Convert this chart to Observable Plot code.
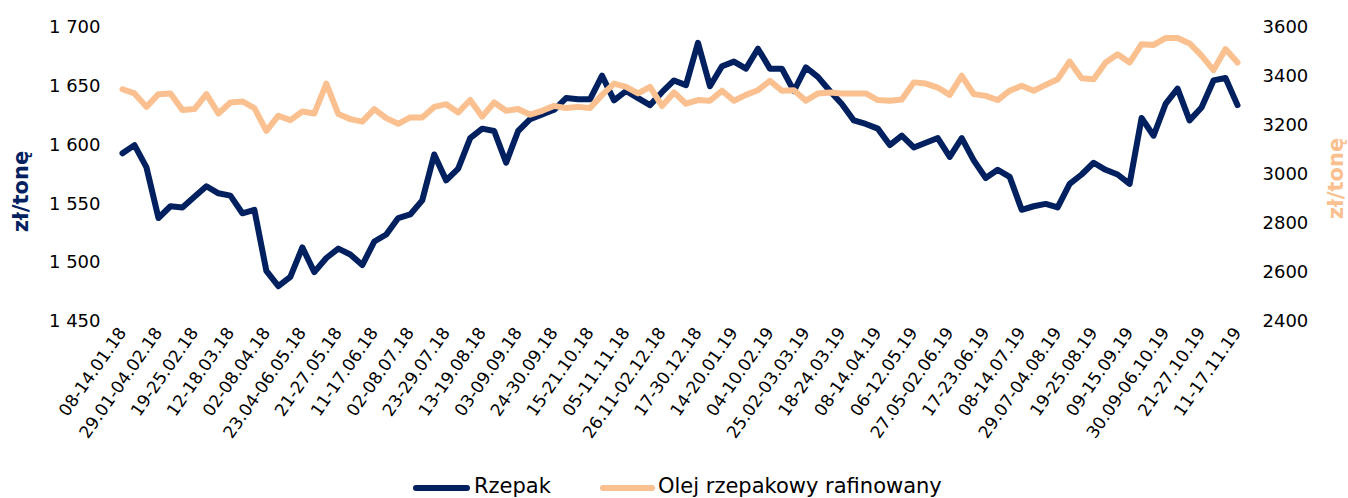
<!DOCTYPE html>
<html>
<head>
<meta charset="utf-8">
<script src="https://cdn.jsdelivr.net/npm/d3@7"></script>
<script src="https://cdn.jsdelivr.net/npm/@observablehq/plot@0.6"></script>
<style>
  html, body { margin: 0; padding: 0; background: #fff; }
  #wrap { position: relative; width: 1348px; height: 498px; overflow: hidden; font-family: "DejaVu Sans", Verdana, sans-serif; }
  #legend { position: absolute; left: 0; top: 460px; width: 1348px; height: 38px; }
  .sw { position: absolute; height: 6px; border-radius: 3px; top: 25px; }
  .lt { position: absolute; font-size: 21px; color: #000; top: 13px; line-height: 26px; white-space: nowrap; }
</style>
</head>
<body>
<div id="wrap">
  <div id="chart"></div>
  <div id="legend">
    <div class="sw" style="left:413px;width:57px;background:#002060"></div>
    <div class="lt" style="left:474px">Rzepak</div>
    <div class="sw" style="left:600px;width:55px;background:#FAC090"></div>
    <div class="lt" style="left:658px">Olej rzepakowy rafinowany</div>
  </div>
</div>
<script>
const weeks = [
  "08-14.01.18","15-21.01.18","22-28.01.18","29.01-04.02.18","05-11.02.18","12-18.02.18",
  "19-25.02.18","26.02-04.03.18","05-11.03.18","12-18.03.18","19-25.03.18","26.03-01.04.18",
  "02-08.04.18","09-15.04.18","16-22.04.18","23.04-06.05.18","07-13.05.18","14-20.05.18",
  "21-27.05.18","28.05-03.06.18","04-10.06.18","11-17.06.18","18-24.06.18","25.06-01.07.18",
  "02-08.07.18","09-15.07.18","16-22.07.18","23-29.07.18","30.07-05.08.18","06-12.08.18",
  "13-19.08.18","20-26.08.18","27.08-02.09.18","03-09.09.18","10-16.09.18","17-23.09.18",
  "24-30.09.18","01-07.10.18","08-14.10.18","15-21.10.18","22-28.10.18","29.10-04.11.18",
  "05-11.11.18","12-18.11.18","19-25.11.18","26.11-02.12.18","03-09.12.18","10-16.12.18",
  "17-30.12.18","31.12-06.01.19","07-13.01.19","14-20.01.19","21-27.01.19","28.01-03.02.19",
  "04-10.02.19","11-17.02.19","18-24.02.19","25.02-03.03.19","04-10.03.19","11-17.03.19",
  "18-24.03.19","25-31.03.19","01-07.04.19","08-14.04.19","15-21.04.19","22.04-05.05.19",
  "06-12.05.19","13-19.05.19","20-26.05.19","27.05-02.06.19","03-09.06.19","10-16.06.19",
  "17-23.06.19","24-30.06.19","01-07.07.19","08-14.07.19","15-21.07.19","22-28.07.19",
  "29.07-04.08.19","05-11.08.19","12-18.08.19","19-25.08.19","26.08-01.09.19","02-08.09.19",
  "09-15.09.19","16-22.09.19","23-29.09.19","30.09-06.10.19","07-13.10.19","14-20.10.19",
  "21-27.10.19","28.10-03.11.19","04-10.11.19","11-17.11.19"
];

const rzepak = [
  1593,1600,1581,1538,1548,1547,1556,1565,1559,1557,
  1542,1545,1493,1480,1488,1513,1492,1504,1512,1507,
  1498,1518,1524,1538,1541,1553,1592,1570,1580,1606,
  1614,1612,1585,1612,1622,1626,1630,1640,1639,1639,
  1659,1638,1646,1640,1634,1645,1655,1651,1687,1650,
  1667,1671,1665,1682,1665,1665,1646,1666,1658,1646,
  1635,1621,1618,1614,1600,1608,1598,1602,1606,1590,
  1606,1587,1572,1579,1573,1545,1548,1550,1547,1567,
  1575,1585,1579,1575,1567,1623,1608,1635,1648,1621,
  1632,1655,1657,1634
];

const olej = [
  3348,3331,3276,3328,3331,3263,3267,3328,3249,3294,
  3298,3271,3178,3240,3222,3257,3249,3371,3247,3226,
  3216,3267,3230,3207,3233,3233,3276,3287,3253,3304,
  3236,3294,3260,3267,3244,3260,3280,3271,3276,3271,
  3325,3371,3358,3331,3358,3280,3335,3289,3304,3301,
  3342,3301,3325,3344,3382,3342,3344,3301,3331,3335,
  3331,3331,3331,3304,3301,3306,3376,3371,3355,3325,
  3403,3328,3321,3304,3342,3362,3342,3366,3389,3461,
  3393,3389,3457,3491,3457,3532,3529,3557,3557,3535,
  3485,3426,3512,3457
];

const leftTicks = [1450, 1500, 1550, 1600, 1650, 1700];
const rightTicks = [2400, 2600, 2800, 3000, 3200, 3400, 3600];
const xTickLabels = weeks.filter((d, i) => i % 3 === 0);

const leftDomain = [1450, 1700];
const rightDomain = [2400, 3600];
const toLeft = d3.scaleLinear(rightDomain, leftDomain);

const rzepakData = weeks.map((w, i) => ({week: w, value: rzepak[i]}));
const olejData = weeks.map((w, i) => ({week: w, value: toLeft(olej[i])}));

const fmtLeft = d => d3.format(",")(d).replace(/,/g, " ");

const chart = Plot.plot({
  width: 1348,
  height: 460,
  marginLeft: 122,
  marginRight: 111,
  marginTop: 27,
  marginBottom: 139,
  style: {fontFamily: "'DejaVu Sans', Verdana, sans-serif", fontSize: "18px", color: "#000", background: "#fff"},
  x: {type: "point", domain: weeks, padding: 0, axis: null},
  y: {domain: leftDomain, axis: null},
  marks: [
    Plot.axisX({ticks: xTickLabels, tickRotate: -55, tickSize: 0, tickPadding: 8, fontSize: 17, label: null}),
    Plot.axisY({ticks: leftTicks, tickFormat: fmtLeft, tickSize: 0, tickPadding: 22, label: null, fontSize: 18}),
    Plot.axisY({anchor: "right", ticks: rightTicks.map(toLeft), tickFormat: d => String(Math.round(toLeft.invert(d))), tickSize: 0, tickPadding: 25, label: null, fontSize: 18}),
    Plot.line(rzepakData, {x: "week", y: "value", stroke: "#002060", strokeWidth: 6, strokeLinejoin: "round", strokeLinecap: "round"}),
    Plot.line(olejData, {x: "week", y: "value", stroke: "#FAC090", strokeWidth: 6, strokeLinejoin: "round", strokeLinecap: "round"}),
    Plot.text(["zł/tonę"], {frameAnchor: "left", dx: -101, dy: 17, rotate: -90, fill: "#002060", fontWeight: "bold", fontSize: 21, textAnchor: "middle"}),
    Plot.text(["zł/tonę"], {frameAnchor: "right", dx: 99, dy: 4, rotate: -90, fill: "#FAC090", fontWeight: "bold", fontSize: 21, textAnchor: "middle"})
  ]
});

document.getElementById("chart").appendChild(chart);
</script>
</body>
</html>
